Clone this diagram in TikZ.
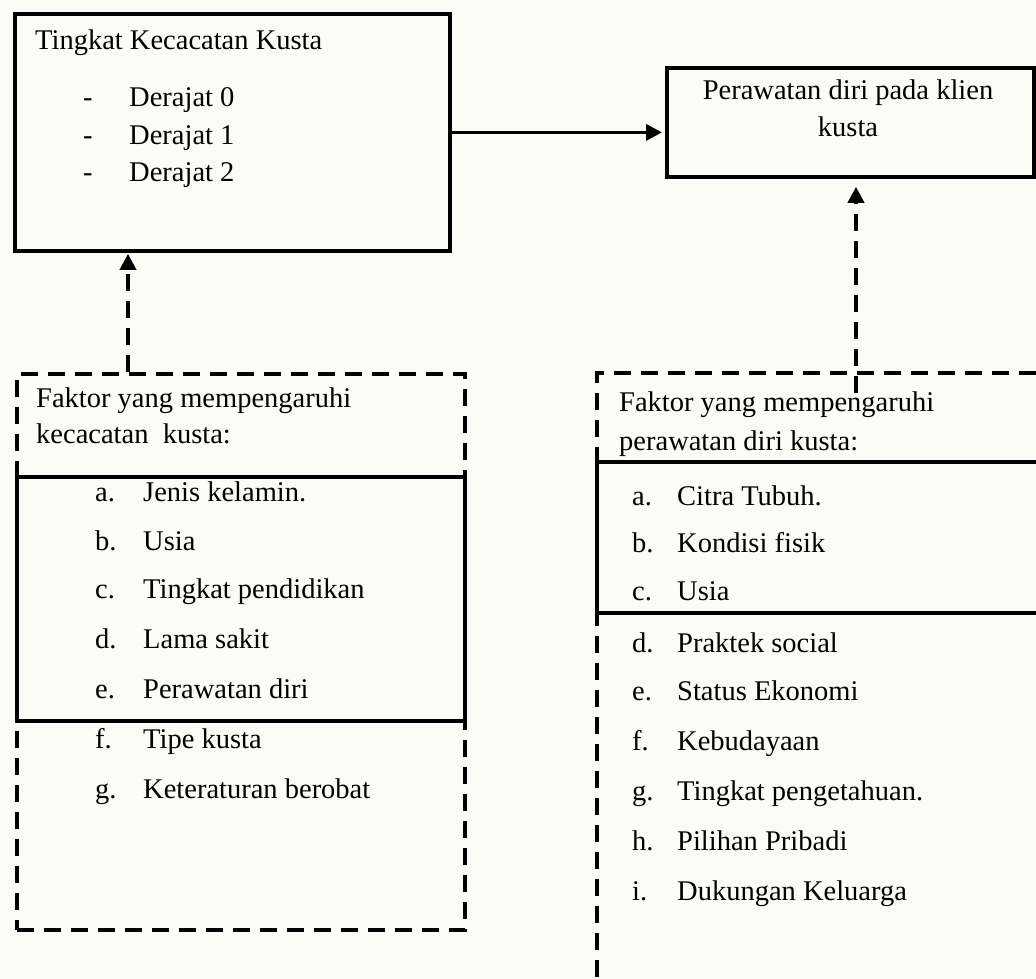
\documentclass[tikz,border=0pt]{standalone}
\usepackage{fontspec}
\setmainfont{Liberation Serif}
\usetikzlibrary{arrows.meta}
\definecolor{bgcol}{RGB}{252,252,247}
\begin{document}
\begin{tikzpicture}[x=1pt,y=-1pt,
  solidbox/.style={draw=black,line width=3.8pt,inner sep=0pt,anchor=north west},
  dashline/.style={draw=black,line width=3.8pt,dash pattern=on 17pt off 10pt},
  dashbox/.style={dashline,inner sep=0pt,anchor=north west},
  txt/.style={inner sep=0pt,anchor=base west,font=\fontsize{28.5}{37.5}\selectfont},
  ctxt/.style={inner sep=0pt,anchor=base,font=\fontsize{28.5}{37.5}\selectfont},
  tip/.style={-{Triangle[length=16pt,width=16pt]}}
]
\path[fill=bgcol] (0,0) rectangle (1036,979);
\useasboundingbox (0,0) rectangle (1036,979);

% main boxes
\node[solidbox,minimum width=435pt,minimum height=237pt] (b1) at (13,12) {};
\node[solidbox,minimum width=367pt,minimum height=109pt] (b2) at (665,66) {};

% left factor box (dashed) and inner solid box
\node[dashbox,minimum width=448pt,minimum height=556pt] (lf) at (15,372) {};
\node[solidbox,minimum width=448pt,minimum height=244pt] (ls) at (15,475) {};

% right factor box (dashed, open at right and bottom) and inner solid box
\coordinate (rtr) at (1036,373);
\coordinate (rtl) at (597,373);
\coordinate (rbl) at (597,979);
\draw[dashline] (rtr) -- (rtl) -- (rbl);
\coordinate (ria) at (1036,462);
\coordinate (rib) at (597,462);
\coordinate (ric) at (597,613);
\coordinate (rid) at (1036,613);
\draw[draw=black,line width=3.8pt] (ria) -- (rib) -- (ric) -- (rid);

% connectors
\draw[line width=3.5pt,tip] (b1.east) -- ([xshift=-3pt]b1.east -| b2.west);
\coordinate (la) at (128,372);
\draw[dashline,tip] (la) -- ([yshift=-1pt]la |- b1.south);
\coordinate (ra) at (856,393);
\draw[dashline,tip] (ra) -- ([yshift=-8pt]ra |- b2.south);

% texts box 1
\node[txt] (t1) at (35,50) {Tingkat Kecacatan Kusta};
\node[txt] (d0) at (83,107) {-};
\node[txt] (e0) at (129,107) {Derajat 0};
\node[txt] (d1) at (83,145) {-};
\node[txt] (e1) at (129,145) {Derajat 1};
\node[txt] (d2) at (83,182) {-};
\node[txt] (e2) at (129,182) {Derajat 2};

% texts box 2
\node[ctxt] (p1) at (848,100) {Perawatan diri pada klien};
\node[ctxt] (p2) at (848,137) {kusta};

% left factor texts
\node[txt] (lh1) at (36,407) {Faktor yang mempengaruhi};
\node[txt] (lh2) at (36,443) {kecacatan\hspace{0.5em}kusta:};
\node[txt] (la1) at (95,501) {a.};
\node[txt] (lb1) at (143,501) {Jenis kelamin.};
\node[txt] (la2) at (95,550) {b.};
\node[txt] (lb2) at (143,550) {Usia};
\node[txt] (la3) at (95,598) {c.};
\node[txt] (lb3) at (143,598) {Tingkat pendidikan};
\node[txt] (la4) at (95,648) {d.};
\node[txt] (lb4) at (143,648) {Lama sakit};
\node[txt] (la5) at (95,698) {e.};
\node[txt] (lb5) at (143,698) {Perawatan diri};
\node[txt] (la6) at (95,748) {f.};
\node[txt] (lb6) at (143,748) {Tipe kusta};
\node[txt] (la7) at (95,798) {g.};
\node[txt] (lb7) at (143,798) {Keteraturan berobat};

% right factor texts
\node[txt] (rh1) at (619,411) {Faktor yang mempengaruhi};
\node[txt] (rh2) at (619,450) {perawatan diri kusta:};
\node[txt] (ra1) at (632,505) {a.};
\node[txt] (rb1) at (677,505) {Citra Tubuh.};
\node[txt] (ra2) at (632,552) {b.};
\node[txt] (rb2) at (677,552) {Kondisi fisik};
\node[txt] (ra3) at (632,600) {c.};
\node[txt] (rb3) at (677,600) {Usia};
\node[txt] (ra4) at (632,652) {d.};
\node[txt] (rb4) at (677,652) {Praktek social};
\node[txt] (ra5) at (632,700) {e.};
\node[txt] (rb5) at (677,700) {Status Ekonomi};
\node[txt] (ra6) at (632,750) {f.};
\node[txt] (rb6) at (677,750) {Kebudayaan};
\node[txt] (ra7) at (632,800) {g.};
\node[txt] (rb7) at (677,800) {Tingkat pengetahuan.};
\node[txt] (ra8) at (632,850) {h.};
\node[txt] (rb8) at (677,850) {Pilihan Pribadi};
\node[txt] (ra9) at (632,900) {i.};
\node[txt] (rb9) at (677,900) {Dukungan Keluarga};
\end{tikzpicture}
\end{document}
